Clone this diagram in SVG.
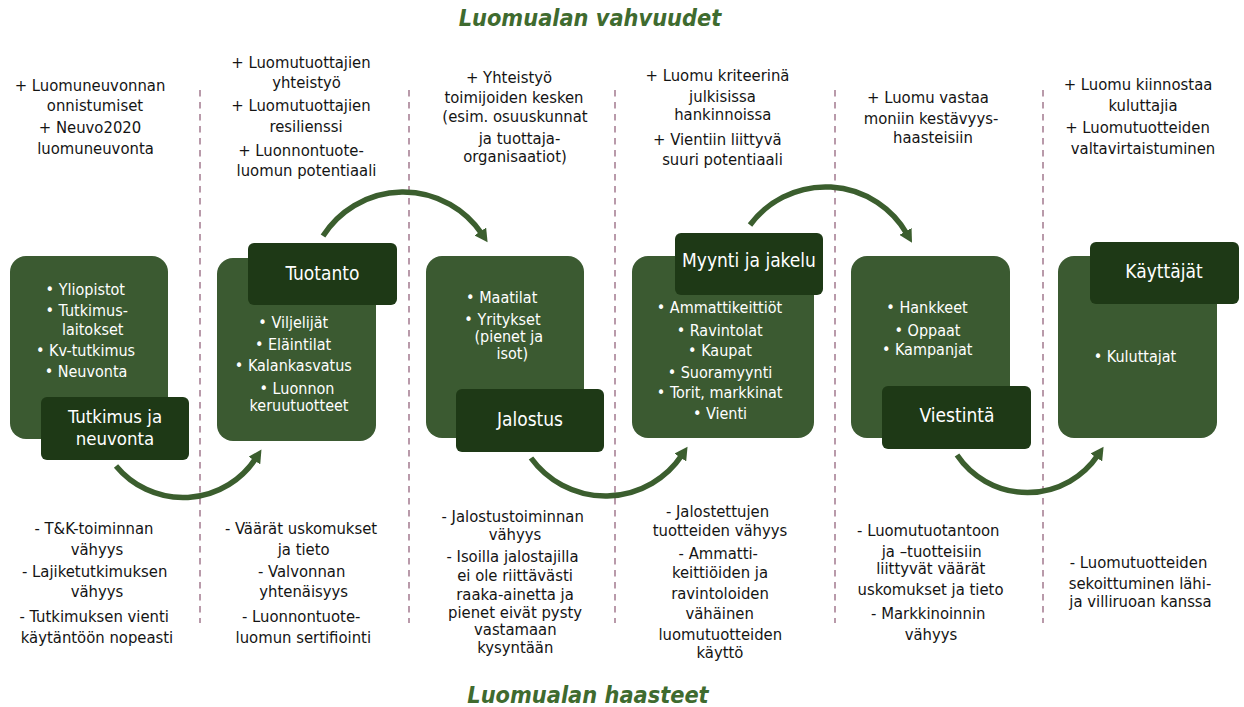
<svg xmlns="http://www.w3.org/2000/svg" width="1244" height="707" viewBox="0 0 1244 707">
<style>
text { font-family: "DejaVu Sans Condensed", "DejaVu Sans", sans-serif; font-stretch: condensed; text-anchor: middle; }
.t { font-size: 16.5px; fill: #141414; }
.b { font-size: 16px; fill: #ffffff; }
.l { font-size: 19px; fill: #ffffff; }
.title { font-size: 23.3px; font-weight: bold; font-style: italic; fill: #3f6b2f; }
.light { fill: #3b5a31; }
.dark { fill: #1e3916; }
.div { stroke: #b99aaa; stroke-width: 2; stroke-dasharray: 6.5 5.5; fill: none; }
.arc { fill: none; stroke: #3b5e2e; stroke-width: 5.5; marker-end: url(#ah); }
</style>
<defs>
<marker id="ah" markerUnits="userSpaceOnUse" markerWidth="14" markerHeight="14" viewBox="0 0 14 14" refX="3" refY="7" orient="auto">
<path d="M0,0 L13,7 L0,14 z" fill="#3b5e2e"/>
</marker>
</defs>
<rect width="1244" height="707" fill="#ffffff"/>

<g id="dividers">
<line class="div" x1="200" y1="90" x2="200" y2="623"/>
<line class="div" x1="409" y1="90" x2="409" y2="623"/>
<line class="div" x1="615" y1="90" x2="615" y2="623"/>
<line class="div" x1="835" y1="90" x2="835" y2="623"/>
<line class="div" x1="1043" y1="90" x2="1043" y2="623"/>
</g>

<text class="title" x="590" y="26">Luomualan vahvuudet</text>
<text class="title" x="588" y="703">Luomualan haasteet</text>

<g id="strengths">
<text class="t" x="90" y="91">+ Luomuneuvonnan</text>
<text class="t" x="95" y="111">onnistumiset</text>
<text class="t" x="90" y="133">+ Neuvo2020</text>
<text class="t" x="95.5" y="154">luomuneuvonta</text>

<text class="t" x="301" y="68">+ Luomutuottajien</text>
<text class="t" x="306.5" y="88">yhteistyö</text>
<text class="t" x="301" y="111">+ Luomutuottajien</text>
<text class="t" x="306" y="132">resilienssi</text>
<text class="t" x="301" y="156">+ Luonnontuote-</text>
<text class="t" x="306.5" y="176">luomun potentiaali</text>

<text class="t" x="509" y="83">+ Yhteistyö</text>
<text class="t" x="514" y="103">toimijoiden kesken</text>
<text class="t" x="515" y="122">(esim. osuuskunnat</text>
<text class="t" x="519.5" y="143.5">ja tuottaja-</text>
<text class="t" x="515" y="162">organisaatiot)</text>

<text class="t" x="717.5" y="81">+ Luomu kriteerinä</text>
<text class="t" x="722.5" y="101.7">julkisissa</text>
<text class="t" x="722.8" y="120">hankinnoissa</text>
<text class="t" x="717.3" y="145">+ Vientiin liittyvä</text>
<text class="t" x="722.5" y="165">suuri potentiaali</text>

<text class="t" x="928" y="103">+ Luomu vastaa</text>
<text class="t" x="931" y="124">moniin kestävyys-</text>
<text class="t" x="933" y="143">haasteisiin</text>

<text class="t" x="1138" y="90">+ Luomu kiinnostaa</text>
<text class="t" x="1143" y="110.7">kuluttajia</text>
<text class="t" x="1137.5" y="133.3">+ Luomutuotteiden</text>
<text class="t" x="1143" y="154">valtavirtaistuminen</text>
</g>

<g id="challenges">
<text class="t" x="94" y="534">- T&amp;K-toiminnan</text>
<text class="t" x="97" y="554.5">vähyys</text>
<text class="t" x="94.7" y="577.3">- Lajiketutkimuksen</text>
<text class="t" x="97" y="597.3">vähyys</text>
<text class="t" x="94.2" y="622.3">- Tutkimuksen vienti</text>
<text class="t" x="97" y="642.7">käytäntöön nopeasti</text>

<text class="t" x="301" y="534">- Väärät uskomukset</text>
<text class="t" x="303.7" y="554.5">ja tieto</text>
<text class="t" x="301.7" y="577.3">- Valvonnan</text>
<text class="t" x="303.7" y="597.3">yhtenäisyys</text>
<text class="t" x="301.2" y="622.3">- Luonnontuote-</text>
<text class="t" x="303.3" y="642.7">luomun sertifiointi</text>

<text class="t" x="512.7" y="522.3">- Jalostustoiminnan</text>
<text class="t" x="515" y="540">vähyys</text>
<text class="t" x="512.5" y="562.3">- Isoilla jalostajilla</text>
<text class="t" x="515" y="580.7">ei ole riittävästi</text>
<text class="t" x="515" y="600">raaka-ainetta ja</text>
<text class="t" x="515" y="617.7">pienet eivät pysty</text>
<text class="t" x="515.3" y="635">vastamaan</text>
<text class="t" x="515.3" y="652.7">kysyntään</text>

<text class="t" x="717.5" y="516.7">- Jalostettujen</text>
<text class="t" x="720" y="535.7">tuotteiden vähyys</text>
<text class="t" x="718.3" y="559.3">- Ammatti-</text>
<text class="t" x="720" y="578.3">keittiöiden ja</text>
<text class="t" x="720" y="599.3">ravintoloiden</text>
<text class="t" x="719.7" y="619.3">vähäinen</text>
<text class="t" x="720.3" y="640">luomutuotteiden</text>
<text class="t" x="720" y="658.3">käyttö</text>

<text class="t" x="928.3" y="535.7">- Luomutuotantoon</text>
<text class="t" x="931.7" y="556.7">ja –tuotteisiin</text>
<text class="t" x="930.8" y="574.3">liittyvät väärät</text>
<text class="t" x="930.5" y="595">uskomukset ja tieto</text>
<text class="t" x="928.3" y="619.3">- Markkinoinnin</text>
<text class="t" x="931" y="640">vähyys</text>

<text class="t" x="1138.5" y="567.7">- Luomutuotteiden</text>
<text class="t" x="1140" y="589.3">sekoittuminen lähi-</text>
<text class="t" x="1140.5" y="606.7">ja villiruoan kanssa</text>
</g>

<g id="connectors">
<path class="arc" d="M116,466 A87,87 0 0 0 256,458"/>
<path class="arc" d="M323,236 A95,95 0 0 1 482,234"/>
<path class="arc" d="M531,458 A92,92 0 0 0 682,455"/>
<path class="arc" d="M750,225 A94,94 0 0 1 907,234"/>
<path class="arc" d="M957,455 A85,85 0 0 0 1098,455"/>
</g>

<g id="node-tutkimus">
<rect class="light" x="10" y="256" width="158" height="183" rx="16"/>
<rect class="dark" x="41" y="397" width="148" height="63" rx="6"/>
<text class="b" x="85.3" y="294.5">• Yliopistot</text>
<text class="b" x="86.7" y="315.5">• Tutkimus-</text>
<text class="b" x="92.7" y="334.5">laitokset</text>
<text class="b" x="85.5" y="356">• Kv-tutkimus</text>
<text class="b" x="86" y="377">• Neuvonta</text>
<text class="l" x="115" y="422.5" style="font-size:18.5px">Tutkimus ja</text>
<text class="l" x="115" y="444.5" style="font-size:18.5px">neuvonta</text>
</g>

<g id="node-tuotanto">
<rect class="light" x="217" y="258" width="159" height="183" rx="16"/>
<rect class="dark" x="248" y="243" width="149" height="62" rx="6"/>
<text class="l" x="322.5" y="280">Tuotanto</text>
<text class="b" x="293.3" y="328.3">• Viljelijät</text>
<text class="b" x="293" y="350">• Eläintilat</text>
<text class="b" x="293.3" y="371">• Kalankasvatus</text>
<text class="b" x="297" y="394">• Luonnon</text>
<text class="b" x="299" y="410.7">keruutuotteet</text>
</g>

<g id="node-jalostus">
<rect class="light" x="426" y="256" width="158" height="182" rx="16"/>
<rect class="dark" x="456" y="389" width="148" height="63" rx="6"/>
<text class="b" x="501.7" y="303.3">• Maatilat</text>
<text class="b" x="502.5" y="325">• Yritykset</text>
<text class="b" x="508.7" y="341.7">(pienet ja</text>
<text class="b" x="512.3" y="359.3">isot)</text>
<text class="l" x="530" y="425.7">Jalostus</text>
</g>

<g id="node-myynti">
<rect class="light" x="632" y="256" width="182" height="182" rx="16"/>
<rect class="dark" x="675" y="233" width="148" height="62" rx="6"/>
<text class="l" x="749" y="267.3">Myynti ja jakelu</text>
<text class="b" x="719.5" y="313.3">• Ammattikeittiöt</text>
<text class="b" x="719.7" y="335.7">• Ravintolat</text>
<text class="b" x="720" y="356">• Kaupat</text>
<text class="b" x="720" y="378.3">• Suoramyynti</text>
<text class="b" x="719.7" y="398.3">• Torit, markkinat</text>
<text class="b" x="720" y="419">• Vienti</text>
</g>

<g id="node-viestinta">
<rect class="light" x="851" y="256" width="159" height="182" rx="16"/>
<rect class="dark" x="882" y="386" width="149" height="63" rx="6"/>
<text class="b" x="927" y="312.7">• Hankkeet</text>
<text class="b" x="927.5" y="335.7">• Oppaat</text>
<text class="b" x="927.2" y="355">• Kampanjat</text>
<text class="l" x="957" y="421.7">Viestintä</text>
</g>

<g id="node-kayttajat">
<rect class="light" x="1058" y="256" width="159" height="182" rx="16"/>
<rect class="dark" x="1090" y="242" width="149" height="62" rx="6"/>
<text class="l" x="1164" y="278.3">Käyttäjät</text>
<text class="b" x="1135" y="361.7">• Kuluttajat</text>
</g>
</svg>
